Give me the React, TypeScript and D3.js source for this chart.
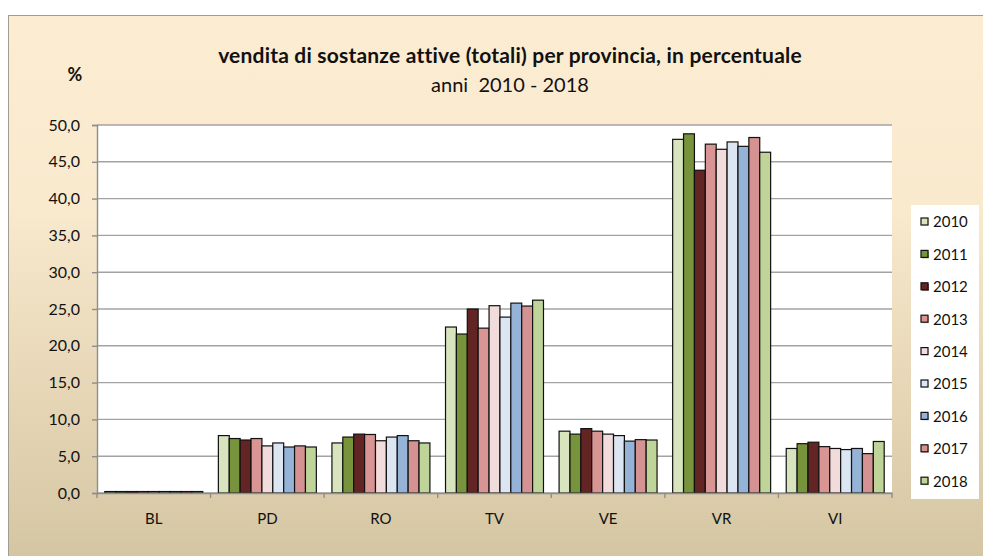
import React, { useEffect, useRef } from 'react';
import * as d3 from 'd3';

const categories = ['BL', 'PD', 'RO', 'TV', 'VE', 'VR', 'VI'];
const years = ['2010', '2011', '2012', '2013', '2014', '2015', '2016', '2017', '2018'];
const colors = ['#D7E4BD', '#77933C', '#632523', '#D99594', '#F2DCDB', '#DCE6F2', '#95B3D7', '#D49392', '#BFD499'];

// one array per province, values for 2010..2018
const BL = [0.2, 0.2, 0.2, 0.2, 0.2, 0.2, 0.2, 0.2, 0.2];
const PD = [7.8, 7.4, 7.2, 7.4, 6.4, 6.8, 6.25, 6.4, 6.25];
const RO = [6.8, 7.6, 8.0, 7.95, 7.1, 7.6, 7.8, 7.1, 6.8];
const TV = [22.55, 21.6, 25.0, 22.4, 25.45, 23.9, 25.8, 25.4, 26.2];
const VE = [8.4, 8.0, 8.75, 8.4, 8.0, 7.8, 7.05, 7.25, 7.2];
const VR = [48.05, 48.8, 43.85, 47.4, 46.7, 47.7, 47.1, 48.3, 46.3];
const VI = [6.05, 6.7, 6.9, 6.3, 6.05, 5.9, 6.05, 5.35, 7.0];
const values = [BL, PD, RO, TV, VE, VR, VI];

const yTicks = [0, 5, 10, 15, 20, 25, 30, 35, 40, 45, 50];

const FONT = 'Lato, "Open Sans", sans-serif';

const App = () => {
  const ref = useRef<SVGSVGElement>(null);

  useEffect(() => {
    const svg = d3.select(ref.current);
    svg.selectAll('*').remove();

    const width = 983;
    const height = 556;
    const left = 97, right = 892, top = 125, bottom = 493;

    const defs = svg.append('defs');
    const grad = defs.append('linearGradient')
      .attr('id', 'bg').attr('x1', 0).attr('y1', 0).attr('x2', 0).attr('y2', 1);
    grad.append('stop').attr('offset', '0%').attr('stop-color', '#FCEDD2');
    grad.append('stop').attr('offset', '35%').attr('stop-color', '#F9E9CD');
    grad.append('stop').attr('offset', '100%').attr('stop-color', '#D3C4A1');

    // outer frame
    svg.append('rect')
      .attr('x', 8.5).attr('y', 15.5)
      .attr('width', width).attr('height', height)
      .attr('fill', 'url(#bg)')
      .attr('stroke', '#A09C94');

    // plot area
    svg.append('rect')
      .attr('x', left).attr('y', top)
      .attr('width', right - left).attr('height', bottom - top)
      .attr('fill', '#fff');

    const y = d3.scaleLinear().domain([0, 50]).range([bottom, top]);
    const x0 = d3.scaleBand().domain(categories).range([left, right]).padding(0);
    const gap = 7.8;
    const x1 = d3.scaleBand().domain(years).range([gap, x0.bandwidth() - gap]).padding(0);

    const loc = d3.formatLocale({ decimal: ',', thousands: '.', grouping: [3], currency: ['', ''] });
    const fmt = loc.format('.1f');

    // gridlines
    svg.append('g')
      .selectAll('line')
      .data(yTicks)
      .enter()
      .append('line')
      .attr('x1', left).attr('x2', right)
      .attr('y1', (d) => y(d)).attr('y2', (d) => y(d))
      .attr('stroke', '#A3A3A3')
      .attr('stroke-width', 1.4);

    // bars
    const groups = svg.append('g')
      .selectAll('g')
      .data(categories)
      .enter()
      .append('g')
      .attr('transform', (d) => `translate(${x0(d)},0)`);

    groups.selectAll('rect')
      .data((d, i) => values[i].map((v, j) => ({ year: years[j], v, j })))
      .enter()
      .append('rect')
      .attr('x', (d) => x1(d.year))
      .attr('y', (d) => y(d.v))
      .attr('width', x1.bandwidth())
      .attr('height', (d) => bottom - y(d.v))
      .attr('fill', (d) => colors[d.j])
      .attr('stroke', '#111')
      .attr('stroke-width', 1.2);

    // y axis
    const yAxis = svg.append('g')
      .attr('transform', `translate(${left},0)`)
      .call(d3.axisLeft(y).tickValues(yTicks).tickFormat((d) => fmt(d as number)).tickSize(5).tickPadding(12));
    yAxis.select('.domain').attr('stroke', '#8E8E8E').attr('stroke-width', 1.4);
    yAxis.selectAll('.tick line').attr('stroke', '#8E8E8E').attr('stroke-width', 1.4);
    yAxis.selectAll('text')
      .attr('font-family', FONT).attr('font-size', 16).attr('fill', '#111');

    // x axis
    const xAxis = svg.append('g')
      .attr('transform', `translate(0,${bottom})`)
      .call(d3.axisBottom(x0).tickSize(0).tickPadding(20));
    xAxis.select('.domain').attr('stroke', '#8E8E8E').attr('stroke-width', 1.4);
    xAxis.selectAll('text')
      .attr('font-family', FONT).attr('font-size', 15).attr('fill', '#111');
    svg.append('g')
      .selectAll('line')
      .data([...categories.map((c) => x0(c) as number), right])
      .enter()
      .append('line')
      .attr('x1', (d) => d).attr('x2', (d) => d)
      .attr('y1', bottom).attr('y2', bottom + 5)
      .attr('stroke', '#8E8E8E').attr('stroke-width', 1.4);

    // titles
    svg.append('text')
      .attr('x', 510).attr('y', 63)
      .attr('text-anchor', 'middle')
      .attr('font-family', FONT).attr('font-weight', 'bold').attr('font-size', 21)
      .attr('letter-spacing', 0.2)
      .attr('fill', '#111')
      .text('vendita di sostanze attive (totali) per provincia, in percentuale');
    svg.append('text')
      .attr('x', 510).attr('y', 92)
      .attr('text-anchor', 'middle')
      .attr('font-family', FONT).attr('font-size', 20)
      .attr('fill', '#111')
      .attr('xml:space', 'preserve')
      .style('white-space', 'pre')
      .text('anni  2010 - 2018');
    svg.append('text')
      .attr('x', 75).attr('y', 81)
      .attr('text-anchor', 'middle')
      .attr('font-family', FONT).attr('font-weight', 'bold').attr('font-size', 18)
      .attr('fill', '#111')
      .text('%');

    // legend
    const lg = svg.append('g');
    lg.append('rect')
      .attr('x', 911).attr('y', 205)
      .attr('width', 68).attr('height', 294)
      .attr('fill', '#fff');
    const item = lg.selectAll('g.item')
      .data(years)
      .enter()
      .append('g')
      .attr('class', 'item')
      .attr('transform', (d, i) => `translate(921,${222 + i * 32.4})`);
    item.append('rect')
      .attr('x', 1).attr('y', -3)
      .attr('width', 7).attr('height', 7)
      .attr('fill', (d, i) => colors[i])
      .attr('opacity', 0.7);
    item.append('rect')
      .attr('x', 0).attr('y', -4)
      .attr('width', 7).attr('height', 7)
      .attr('fill', (d, i) => colors[i])
      .attr('stroke', '#111')
      .attr('stroke-width', 1.2);
    item.append('text')
      .attr('x', 12).attr('y', 0)
      .attr('dy', '0.36em')
      .attr('font-family', FONT).attr('font-size', 15)
      .attr('fill', '#111')
      .text((d) => d);
  }, []);

  return (
    <svg
      ref={ref}
      width={983}
      height={556}
      style={{ position: 'absolute', left: 0, top: 0 }}
    ></svg>
  );
};

export default App;
